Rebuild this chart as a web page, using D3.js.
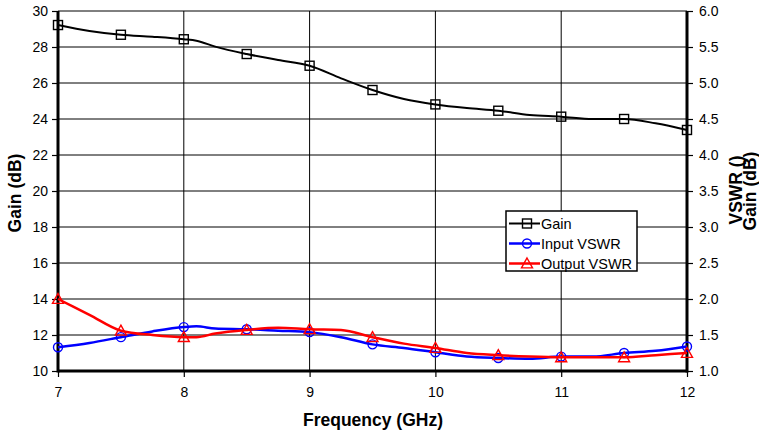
<!DOCTYPE html>
<html>
<head>
<meta charset="utf-8">
<script src="https://cdn.jsdelivr.net/npm/d3@7"></script>
<style>
  body { margin: 0; background: #fff; }
  text { font-family: "Liberation Sans", Arial, sans-serif; }
</style>
</head>
<body>
<script>
// 周波数 (GHz) — 線用の点、マーカーは0.5刻み
const freqs = [7, 7.25, 7.5, 7.75, 8, 8.1, 8.25, 8.5, 8.75, 9, 9.25, 9.5, 9.75, 10, 10.25, 10.5, 10.75, 11, 11.25, 11.5, 11.75, 12];
const gain = [29.22, 28.89, 28.68, 28.57, 28.43, 28.35, 28.02, 27.61, 27.28, 26.96, 26.26, 25.61, 25.11, 24.81, 24.61, 24.46, 24.22, 24.13, 24.0, 24.0, 23.76, 23.39];
const inputVswr = [1.33, 1.39, 1.47, 1.55, 1.61, 1.62, 1.59, 1.58, 1.56, 1.54, 1.47, 1.37, 1.32, 1.26, 1.2, 1.18, 1.17, 1.2, 1.2, 1.25, 1.28, 1.34];
const outputVswr = [2.0, 1.78, 1.56, 1.5, 1.47, 1.47, 1.52, 1.57, 1.6, 1.58, 1.57, 1.47, 1.38, 1.32, 1.25, 1.22, 1.2, 1.19, 1.19, 1.19, 1.22, 1.25];
const markerFreqs = [7, 7.5, 8, 8.5, 9, 9.5, 10, 10.5, 11, 11.5, 12];

const xTicks = [7, 8, 9, 10, 11, 12];
const gainTicks = [10, 12, 14, 16, 18, 20, 22, 24, 26, 28, 30];
const vswrTicks = [1.0, 1.5, 2.0, 2.5, 3.0, 3.5, 4.0, 4.5, 5.0, 5.5, 6.0];

const series = [
  { name: "Gain", values: gain, color: "#000", axis: "left", marker: "square", width: 2 },
  { name: "Input VSWR", values: inputVswr, color: "#0000ff", axis: "right", marker: "circle", width: 2.5 },
  { name: "Output VSWR", values: outputVswr, color: "#ff0000", axis: "right", marker: "triangle", width: 2.5 }
];

const width = 759, height = 435;
const margin = { top: 11, right: 72, bottom: 64, left: 58 };

const svg = d3.select("body").append("svg")
  .attr("width", width)
  .attr("height", height);

const x = d3.scaleLinear().domain([7, 12]).range([margin.left, width - margin.right]);
const yL = d3.scaleLinear().domain([10, 30]).range([height - margin.bottom, margin.top]);
const yR = d3.scaleLinear().domain([1, 6]).range([height - margin.bottom, margin.top]);

// グリッド
svg.append("g")
  .selectAll("line")
  .data(gainTicks)
  .join("line")
  .attr("x1", x(7)).attr("x2", x(12))
  .attr("y1", d => yL(d)).attr("y2", d => yL(d))
  .attr("stroke", "#000").attr("stroke-width", 1);

svg.append("g")
  .selectAll("line")
  .data(xTicks.slice(1, -1))
  .join("line")
  .attr("x1", d => x(d)).attr("x2", d => x(d))
  .attr("y1", yL(10)).attr("y2", yL(30))
  .attr("stroke", "#000").attr("stroke-width", 1);

// 軸
const axisStyle = g => {
  g.select(".domain").remove();
  g.selectAll(".tick line").attr("stroke", "#000").attr("stroke-width", 1.2);
  g.selectAll(".tick text").attr("fill", "#000").style("font-size", "14px")
    .style("font-family", "'Liberation Sans', Arial, sans-serif");
};

svg.append("g")
  .attr("transform", `translate(${x(7)},0)`)
  .call(d3.axisLeft(yL).tickValues(gainTicks).tickFormat(d3.format("d")).tickSize(6).tickPadding(4))
  .call(axisStyle);

svg.append("g")
  .attr("transform", `translate(${x(12)},0)`)
  .call(d3.axisRight(yR).tickValues(vswrTicks).tickFormat(d3.format(".1f")).tickSize(6).tickPadding(6))
  .call(axisStyle);

svg.append("g")
  .attr("transform", `translate(0,${yL(10)})`)
  .call(d3.axisBottom(x).tickValues(xTicks).tickFormat(d3.format("d")).tickSize(6).tickPadding(10))
  .call(axisStyle);

// 太い軸線
svg.append("line").attr("x1", x(7)).attr("x2", x(7)).attr("y1", yL(30)).attr("y2", yL(10) + 1.5)
  .attr("stroke", "#000").attr("stroke-width", 3);
svg.append("line").attr("x1", x(12)).attr("x2", x(12)).attr("y1", yL(30)).attr("y2", yL(10) + 1.5)
  .attr("stroke", "#000").attr("stroke-width", 3);
svg.append("line").attr("x1", x(7)).attr("x2", x(12)).attr("y1", yL(10)).attr("y2", yL(10))
  .attr("stroke", "#000").attr("stroke-width", 3);

// マーカー描画
function drawMarker(g, type, color, cx, cy) {
  if (type === "square") {
    g.append("rect").attr("x", cx - 4.5).attr("y", cy - 4.5).attr("width", 9).attr("height", 9)
      .attr("fill", "none").attr("stroke", color).attr("stroke-width", 1.4);
  } else if (type === "circle") {
    g.append("circle").attr("cx", cx).attr("cy", cy).attr("r", 4.5)
      .attr("fill", "none").attr("stroke", color).attr("stroke-width", 1.4);
  } else {
    const s = 5.5;
    g.append("path")
      .attr("d", `M${cx},${cy - s}L${cx + s},${cy + s * 0.8}L${cx - s},${cy + s * 0.8}Z`)
      .attr("fill", "none").attr("stroke", color).attr("stroke-width", 1.4);
  }
}

// 系列
series.forEach(s => {
  const yScale = s.axis === "left" ? yL : yR;
  const pts = freqs.map((f, i) => [f, s.values[i]]);
  const line = d3.line().x(d => x(d[0])).y(d => yScale(d[1])).curve(d3.curveMonotoneX);
  svg.append("path").datum(pts)
    .attr("d", line)
    .attr("fill", "none")
    .attr("stroke", s.color)
    .attr("stroke-width", s.width)
    .attr("stroke-linejoin", "round");
  const g = svg.append("g");
  pts.filter(p => markerFreqs.includes(p[0])).forEach(p => {
    drawMarker(g, s.marker, s.color, x(p[0]), yScale(p[1]));
  });
});

// 凡例
const legend = svg.append("g").attr("transform", "translate(506,211)");
legend.append("rect").attr("width", 131).attr("height", 60)
  .attr("fill", "#fff").attr("stroke", "#000").attr("stroke-width", 1.5);
series.forEach((s, i) => {
  const ly = 12.5 + i * 20;
  legend.append("line").attr("x1", 3).attr("x2", 34).attr("y1", ly).attr("y2", ly)
    .attr("stroke", s.color).attr("stroke-width", s.width);
  drawMarker(legend, s.marker, s.color, 21, ly);
  legend.append("text").attr("x", 35).attr("y", ly).attr("dy", "0.35em")
    .style("font-size", "14.5px").attr("fill", "#000").text(s.name);
});

// 軸タイトル
svg.append("text")
  .attr("x", 373).attr("y", 420).attr("dy", "0.35em")
  .attr("text-anchor", "middle")
  .style("font-size", "17.5px").style("font-weight", "bold")
  .text("Frequency (GHz)");

svg.append("text")
  .attr("transform", "translate(15,193) rotate(-90)")
  .attr("dy", "0.35em")
  .attr("text-anchor", "middle")
  .style("font-size", "17.5px").style("font-weight", "bold")
  .text("Gain (dB)");

svg.append("text")
  .attr("transform", "translate(736,190) rotate(-90)")
  .attr("dy", "0.35em")
  .attr("text-anchor", "middle")
  .style("font-size", "17.5px").style("font-weight", "bold")
  .text("VSWR ()");

svg.append("text")
  .attr("transform", "translate(750,191) rotate(-90)")
  .attr("dy", "0.35em")
  .attr("text-anchor", "middle")
  .style("font-size", "17.5px").style("font-weight", "bold")
  .text("Gain (dB)");
</script>
</body>
</html>
